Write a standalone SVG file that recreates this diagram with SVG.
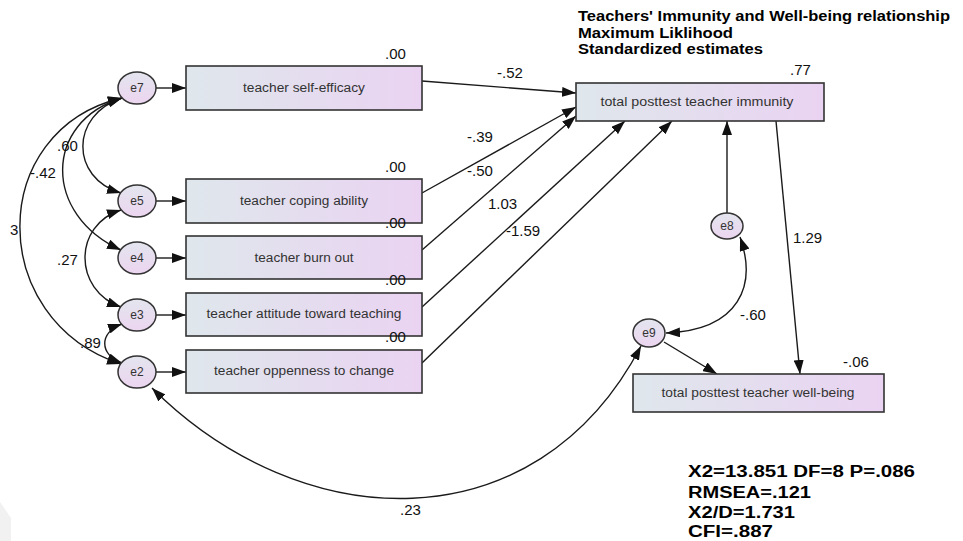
<svg xmlns="http://www.w3.org/2000/svg" width="963" height="541" viewBox="0 0 963 541">
<defs>
<linearGradient id="gb" x1="0" y1="0" x2="1" y2="0">
<stop offset="0" stop-color="#dfe7ec"/>
<stop offset="1" stop-color="#ead3f2"/>
</linearGradient>
<linearGradient id="ge" x1="0" y1="0" x2="0" y2="1">
<stop offset="0" stop-color="#e3e5ee"/>
<stop offset="1" stop-color="#ecd5f0"/>
</linearGradient>
<marker id="ah" viewBox="0 0 14 10" refX="14" refY="5" markerWidth="14" markerHeight="10" markerUnits="userSpaceOnUse" orient="auto-start-reverse">
<path d="M0,0 L14,5 L0,10 z" fill="#111"/>
</marker>
<style>
.box{fill:url(#gb);stroke:#333;stroke-width:1.6}
.ell{fill:url(#ge);stroke:#333;stroke-width:1.5}
.lbl{font-family:"Liberation Sans",Arial,sans-serif;font-size:12.5px;fill:#333;text-anchor:middle}
.el{font-family:"Liberation Sans",Arial,sans-serif;font-size:12px;fill:#333;text-anchor:middle}
.num{font-family:"Liberation Sans",Arial,sans-serif;font-size:15px;fill:#111}
.hd{font-family:"Liberation Sans",Arial,sans-serif;font-weight:bold;fill:#000}
.ln{fill:none;stroke:#1a1a1a;stroke-width:1.4}
.one{marker-end:url(#ah)}
.two{marker-start:url(#ah);marker-end:url(#ah)}
</style>
</defs>
<rect width="963" height="541" fill="#fff"/>
<polygon points="0,502 11,518 11,541 0,541" fill="#f1f1f1"/>

<g id="connectors">
<path class="ln one" d="M156 88 L186 88"/>
<path class="ln one" d="M156 201 L186 201"/>
<path class="ln one" d="M156 258 L186 258"/>
<path class="ln one" d="M156 315 L186 315"/>
<path class="ln one" d="M156 372 L186 372"/>
<path class="ln one" d="M422 81 L576 93"/>
<path class="ln one" d="M422 193 L576 107"/>
<path class="ln one" d="M422 250 L576 116"/>
<path class="ln one" d="M422 307 L625 121"/>
<path class="ln one" d="M422 363 L672 121"/>
<path class="ln one" d="M727 213 L727 121"/>
<path class="ln one" d="M776 121 L800 374"/>
<path class="ln one" d="M664 342 L717 374"/>
<path class="ln two" d="M122 98 C70 115,70 178,121 193"/>
<path class="ln two" d="M122 98 C43 122,43 215,121 250"/>
<path class="ln two" d="M122 98 C-14 130,-14 320,121 364"/>
<path class="ln two" d="M121 210 C73 225,73 290,121 307"/>
<path class="ln two" d="M122 324 C99 332,99 355,122 363"/>
<path class="ln two" d="M740 237 C757 285,740 330,666 333"/>
<path class="ln two" d="M152 388 C300 536,535 548,641 346"/>
</g>

<g id="title">
<text class="hd" x="578" y="21" font-size="14" textLength="372" lengthAdjust="spacingAndGlyphs">Teachers' Immunity and Well-being relationship</text>
<text class="hd" x="578" y="38" font-size="14" textLength="155" lengthAdjust="spacingAndGlyphs">Maximum Liklihood</text>
<text class="hd" x="578" y="54" font-size="14" textLength="185" lengthAdjust="spacingAndGlyphs">Standardized estimates</text>
</g>

<g id="n_selfefficacy">
<rect class="box" x="186" y="66" width="236" height="44"/>
<text class="lbl" x="304" y="92" textLength="122" lengthAdjust="spacingAndGlyphs">teacher self-efficacy</text>
<text class="num" x="385" y="59">.00</text>
</g>
<g id="n_coping">
<rect class="box" x="186" y="179" width="236" height="44"/>
<text class="lbl" x="304" y="205" textLength="128" lengthAdjust="spacingAndGlyphs">teacher coping ability</text>
<text class="num" x="385" y="172">.00</text>
</g>
<g id="n_burnout">
<rect class="box" x="186" y="236" width="236" height="43"/>
<text class="lbl" x="304" y="262" textLength="99" lengthAdjust="spacingAndGlyphs">teacher burn out</text>
<text class="num" x="385" y="228">.00</text>
</g>
<g id="n_attitude">
<rect class="box" x="186" y="293" width="236" height="43"/>
<text class="lbl" x="304" y="318" textLength="195" lengthAdjust="spacingAndGlyphs">teacher attitude toward teaching</text>
<text class="num" x="385" y="285">.00</text>
</g>
<g id="n_openness">
<rect class="box" x="186" y="350" width="236" height="43"/>
<text class="lbl" x="304" y="375" textLength="180" lengthAdjust="spacingAndGlyphs">teacher oppenness to change</text>
<text class="num" x="385" y="342">.00</text>
</g>
<g id="n_immunity">
<rect class="box" x="576" y="83" width="248" height="38"/>
<text class="lbl" x="697" y="106" textLength="193" lengthAdjust="spacingAndGlyphs">total posttest teacher immunity</text>
<text class="num" x="790" y="75">.77</text>
</g>
<g id="n_wellbeing">
<rect class="box" x="633" y="374" width="251" height="38"/>
<text class="lbl" x="758" y="397" textLength="193" lengthAdjust="spacingAndGlyphs">total posttest teacher well-being</text>
<text class="num" x="843" y="367">-.06</text>
</g>

<g id="e7"><ellipse class="ell" cx="137" cy="88" rx="19" ry="16"/><text class="el" x="137" y="92">e7</text></g>
<g id="e5"><ellipse class="ell" cx="137" cy="201" rx="19" ry="16"/><text class="el" x="137" y="205">e5</text></g>
<g id="e4"><ellipse class="ell" cx="137" cy="258" rx="19" ry="16"/><text class="el" x="137" y="262">e4</text></g>
<g id="e3"><ellipse class="ell" cx="137" cy="315" rx="19" ry="16"/><text class="el" x="137" y="319">e3</text></g>
<g id="e2"><ellipse class="ell" cx="137" cy="372" rx="19" ry="16"/><text class="el" x="137" y="376">e2</text></g>
<g id="e8"><ellipse class="ell" cx="727" cy="226" rx="16" ry="13"/><text class="el" x="727" y="230" font-size="11">e8</text></g>
<g id="e9"><ellipse class="ell" cx="649" cy="333" rx="16" ry="14"/><text class="el" x="649" y="337" font-size="11">e9</text></g>

<g id="labels">
<text class="num" x="497" y="78">-.52</text>
<text class="num" x="467" y="142">-.39</text>
<text class="num" x="467" y="176">-.50</text>
<text class="num" x="488" y="209">1.03</text>
<text class="num" x="506" y="236">-1.59</text>
<text class="num" x="793" y="243">1.29</text>
<text class="num" x="740" y="320">-.60</text>
<text class="num" x="400" y="515">.23</text>
<text class="num" x="57" y="151">.60</text>
<text class="num" x="30" y="178">-.42</text>
<text class="num" x="10" y="235">3</text>
<text class="num" x="57" y="265">.27</text>
<text class="num" x="80" y="348">.89</text>
</g>

<g id="fit">
<text class="hd" x="688" y="477" font-size="16" textLength="227" lengthAdjust="spacingAndGlyphs">X2=13.851 DF=8 P=.086</text>
<text class="hd" x="688" y="498" font-size="16" textLength="123" lengthAdjust="spacingAndGlyphs">RMSEA=.121</text>
<text class="hd" x="688" y="518" font-size="16" textLength="107" lengthAdjust="spacingAndGlyphs">X2/D=1.731</text>
<text class="hd" x="688" y="537" font-size="16" textLength="85" lengthAdjust="spacingAndGlyphs">CFI=.887</text>
</g>
</svg>
